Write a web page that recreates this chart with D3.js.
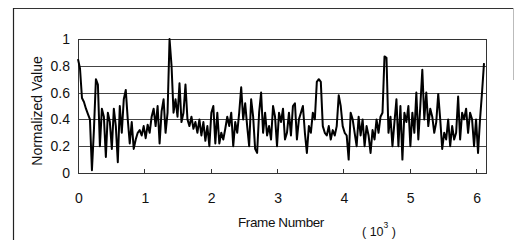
<!DOCTYPE html>
<html>
<head>
<meta charset="utf-8">
<script src="https://cdn.jsdelivr.net/npm/d3@7"></script>
<style>
  html, body { margin: 0; padding: 0; background: #fff; }
  svg { display: block; }
  text { font-family: "Liberation Sans", Arial, sans-serif; fill: #111; }
</style>
</head>
<body>
<svg id="chart" width="515" height="240"></svg>
<script>
// Frame step between samples (frames)
const frameStep = 30;
// Normalized values (one sample every 30 frames)
const values = [
  0.85, 0.78, 0.56, 0.53, 0.48, 0.44, 0.40, 0.02, 0.32, 0.70,
  0.66, 0.20, 0.48, 0.42, 0.12, 0.45, 0.38, 0.18, 0.48, 0.35,
  0.08, 0.50, 0.30, 0.55, 0.62, 0.40, 0.22, 0.38, 0.18, 0.25,
  0.30, 0.32, 0.28, 0.35, 0.26, 0.36, 0.30, 0.42, 0.48, 0.35,
  0.50, 0.22, 0.46, 0.55, 0.30, 0.45, 1.00, 0.80, 0.45, 0.55,
  0.42, 0.67, 0.38, 0.45, 0.66, 0.40, 0.35, 0.42, 0.33, 0.38,
  0.30, 0.40, 0.28, 0.38, 0.24, 0.35, 0.20, 0.45, 0.50, 0.22,
  0.45, 0.22, 0.30, 0.25, 0.33, 0.42, 0.35, 0.45, 0.20, 0.38,
  0.30, 0.45, 0.64, 0.40, 0.52, 0.35, 0.20, 0.55, 0.42, 0.18,
  0.15, 0.45, 0.60, 0.30, 0.45, 0.28, 0.35, 0.25, 0.50, 0.42,
  0.20, 0.45, 0.38, 0.48, 0.25, 0.30, 0.45, 0.28, 0.50, 0.52,
  0.25, 0.40, 0.45, 0.50, 0.30, 0.15, 0.35, 0.30, 0.45, 0.40,
  0.68, 0.70, 0.68, 0.35, 0.30, 0.28, 0.35, 0.25, 0.32, 0.28,
  0.35, 0.58, 0.50, 0.35, 0.30, 0.28, 0.10, 0.45, 0.40, 0.30,
  0.20, 0.42, 0.28, 0.40, 0.20, 0.35, 0.28, 0.15, 0.32, 0.25,
  0.40, 0.30, 0.42, 0.45, 0.87, 0.86, 0.30, 0.42, 0.20, 0.38,
  0.55, 0.20, 0.50, 0.10, 0.45, 0.38, 0.50, 0.20, 0.45, 0.30,
  0.60, 0.25, 0.50, 0.77, 0.40, 0.60, 0.35, 0.48, 0.42, 0.30,
  0.38, 0.59, 0.40, 0.18, 0.30, 0.25, 0.40, 0.20, 0.35, 0.25,
  0.30, 0.57, 0.25, 0.45, 0.40, 0.48, 0.30, 0.45, 0.40, 0.20,
  0.40, 0.15, 0.40, 0.60, 0.82
];
const xTicks = [0, 1000, 2000, 3000, 4000, 5000, 6000];
const xTickLabels = ["0", "1", "2", "3", "4", "5", "6"];
const yTicks = [0, 0.2, 0.4, 0.6, 0.8, 1];
const yTickLabels = ["0", "0.2", "0.4", "0.6", "0.8", "1"];

const svg = d3.select("#chart");
const mLeft = 78, mRight = 486, mTop = 39, mBottom = 173;

const x = d3.scaleLinear().domain([0, 6150]).range([mLeft, mRight]);
const y = d3.scaleLinear().domain([0, 1]).range([mBottom, mTop]);

// Outer frame
svg.append("line").attr("x1", 13).attr("x2", 514).attr("y1", 8.5).attr("y2", 8.5)
  .attr("stroke", "#333").attr("stroke-width", 1.2);
svg.append("line").attr("x1", 13.5).attr("x2", 13.5).attr("y1", 8).attr("y2", 240)
  .attr("stroke", "#222").attr("stroke-width", 1.2);
svg.append("line").attr("x1", 513.5).attr("x2", 513.5).attr("y1", 8).attr("y2", 80)
  .attr("stroke", "#bbb").attr("stroke-width", 1);

// Gridlines
svg.append("g").selectAll("line").data(yTicks.filter(d => d > 0 && d < 1)).join("line")
  .attr("x1", mLeft).attr("x2", mRight)
  .attr("y1", d => Math.round(y(d)) + 0.5).attr("y2", d => Math.round(y(d)) + 0.5)
  .attr("stroke", "#444").attr("stroke-width", 1);

// Plot frame
svg.append("rect").attr("x", mLeft + 0.5).attr("y", mTop + 0.5)
  .attr("width", mRight - mLeft).attr("height", mBottom - mTop)
  .attr("fill", "none").attr("stroke", "#333").attr("stroke-width", 1);

// X tick marks (inward)
svg.append("g").selectAll("line").data(xTicks).join("line")
  .attr("x1", d => Math.round(x(d)) + 0.5).attr("x2", d => Math.round(x(d)) + 0.5)
  .attr("y1", mBottom).attr("y2", mBottom - 4)
  .attr("stroke", "#333").attr("stroke-width", 1);

// Line
const line = d3.line()
  .x((d, i) => x(i * frameStep))
  .y(d => y(d));
svg.append("path").datum(values)
  .attr("d", line)
  .attr("fill", "none").attr("stroke", "#000")
  .attr("stroke-width", 2).attr("stroke-linejoin", "round");

// Y tick labels
svg.append("g").selectAll("text").data(yTicks).join("text")
  .attr("x", 70).attr("y", d => y(d) + 5)
  .attr("text-anchor", "end").attr("font-size", 14)
  .text((d, i) => yTickLabels[i]);

// X tick labels
svg.append("g").selectAll("text").data(xTicks).join("text")
  .attr("x", d => x(d) + 1).attr("y", 203)
  .attr("text-anchor", "middle").attr("font-size", 14)
  .text((d, i) => xTickLabels[i]);

// Axis titles
svg.append("text").attr("transform", "translate(42,111) rotate(-90)")
  .attr("text-anchor", "middle").attr("font-size", 14)
  .text("Normalized Value");
svg.append("text").attr("x", 281).attr("y", 227)
  .attr("text-anchor", "middle").attr("font-size", 13.5)
  .attr("letter-spacing", -0.4)
  .text("Frame Number");

const unit = svg.append("text").attr("x", 362).attr("y", 236).attr("font-size", 12.5);
unit.append("tspan").text("( 10");
unit.append("tspan").attr("dy", -8).attr("font-size", 8.5).text("3");
unit.append("tspan").attr("dy", 8).text(" )");
</script>
</body>
</html>
